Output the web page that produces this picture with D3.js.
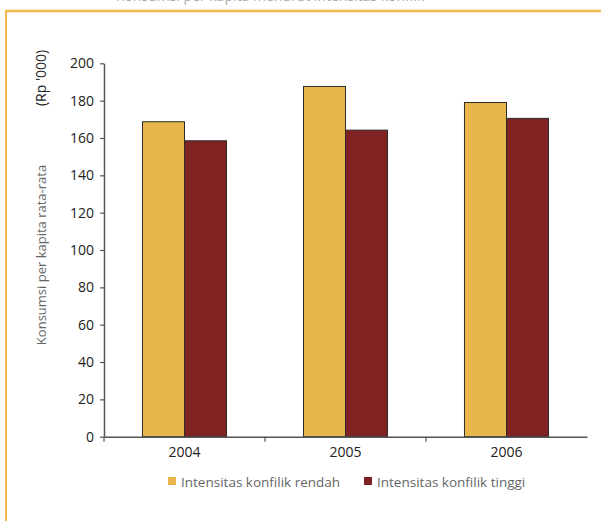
<!DOCTYPE html>
<html><head><meta charset="utf-8">
<script src="https://cdn.jsdelivr.net/npm/d3@7"></script>
<style>body{margin:0;background:#fff}svg{display:block}</style>
</head><body>
<script>
const years = ["2004", "2005", "2006"];
const seriesNames = ["Intensitas konfilik rendah", "Intensitas konfilik tinggi"];
const rendah = [168.7, 187.6, 179.0];
const tinggi = [158.5, 164.2, 170.5];
const yTicks = [0, 20, 40, 60, 80, 100, 120, 140, 160, 180, 200];
const colors = ["#E8B64A", "#812222"];

const W = 601, H = 521;
const svg = d3.select("body").append("svg").attr("width", W).attr("height", H);
const font = "'Open Sans', sans-serif";

// frame
svg.append("line").attr("x1", 5).attr("x2", W).attr("y1", 11).attr("y2", 11)
  .attr("stroke", "#EFB94C").attr("stroke-width", 2.5);
svg.append("line").attr("x1", 6).attr("x2", 6).attr("y1", 10).attr("y2", H)
  .attr("stroke", "#EFB94C").attr("stroke-width", 2);
// cut-off title (only its lowest pixels show in the reference)
svg.append("text").attr("x", 270).attr("y", 1).attr("text-anchor", "middle")
  .attr("font-family", font).attr("font-size", 14).attr("fill", "#aaa")
  .text("Konsumsi per kapita menurut intensitas konflik");

const x = d3.scaleBand().domain(years).range([104, 587]).padding(0);
const y = d3.scaleLinear().domain([0, 200]).range([436.7, 63.3]);
const bw = x.bandwidth() * 0.261;

const data = years.map((yr, i) => ({yr, vals: [rendah[i], tinggi[i]]}));
const g = svg.append("g");
data.forEach(d => {
  d.vals.forEach((v, j) => {
    const cx = x(d.yr) + x.bandwidth() / 2;
    g.append("rect")
      .attr("x", cx - bw + j * bw).attr("y", y(v))
      .attr("width", bw).attr("height", y(0) - y(v))
      .attr("fill", colors[j]).attr("stroke", "#2b2b2b").attr("stroke-width", 1);
  });
});

// y axis
const yAxis = svg.append("g").attr("transform", "translate(104,0)")
  .call(d3.axisLeft(y).tickValues(yTicks).tickSize(4).tickSizeOuter(0).tickPadding(6));
yAxis.select(".domain").attr("stroke", "#555").attr("stroke-width", 1.5);
yAxis.selectAll(".tick line").attr("stroke", "#555").attr("stroke-width", 1.2);
yAxis.selectAll("text").attr("font-family", font).attr("font-size", 14).attr("fill", "#222");

// x axis
const xAxis = svg.append("g").attr("transform", `translate(0,${y(0)})`)
  .call(d3.axisBottom(x).tickSize(0).tickPadding(10));
xAxis.select(".domain").attr("stroke", "#555").attr("stroke-width", 1.5);
xAxis.selectAll("text").attr("font-family", font).attr("font-size", 14).attr("fill", "#222");
const bounds = [104].concat(years.map(yr => x(yr) + x.bandwidth())).slice(0, 3);
svg.append("g").selectAll("line").data(bounds).join("line")
  .attr("x1", d => d).attr("x2", d => d).attr("y1", y(0)).attr("y2", y(0) + 5)
  .attr("stroke", "#555").attr("stroke-width", 1.2);

// y label
svg.append("text").attr("transform", "translate(46,255) rotate(-90)")
  .attr("text-anchor", "middle").attr("font-family", font).attr("font-size", 13)
  .attr("fill", "#666").text("Konsumsi per kapita rata-rata");
svg.append("text").attr("transform", "translate(46,78) rotate(-90)")
  .attr("text-anchor", "middle").attr("font-family", font).attr("font-size", 14)
  .attr("fill", "#222").text("(Rp '000)");

// legend
const legX = [168, 364];
seriesNames.forEach((n, j) => {
  svg.append("rect").attr("x", legX[j]).attr("y", 477).attr("width", 8).attr("height", 8)
    .attr("fill", colors[j]);
  svg.append("text").attr("x", legX[j] + 13).attr("y", 486.5)
    .attr("font-family", font).attr("font-size", 13.5).attr("fill", "#666").text(n);
});
</script>
</body></html>
